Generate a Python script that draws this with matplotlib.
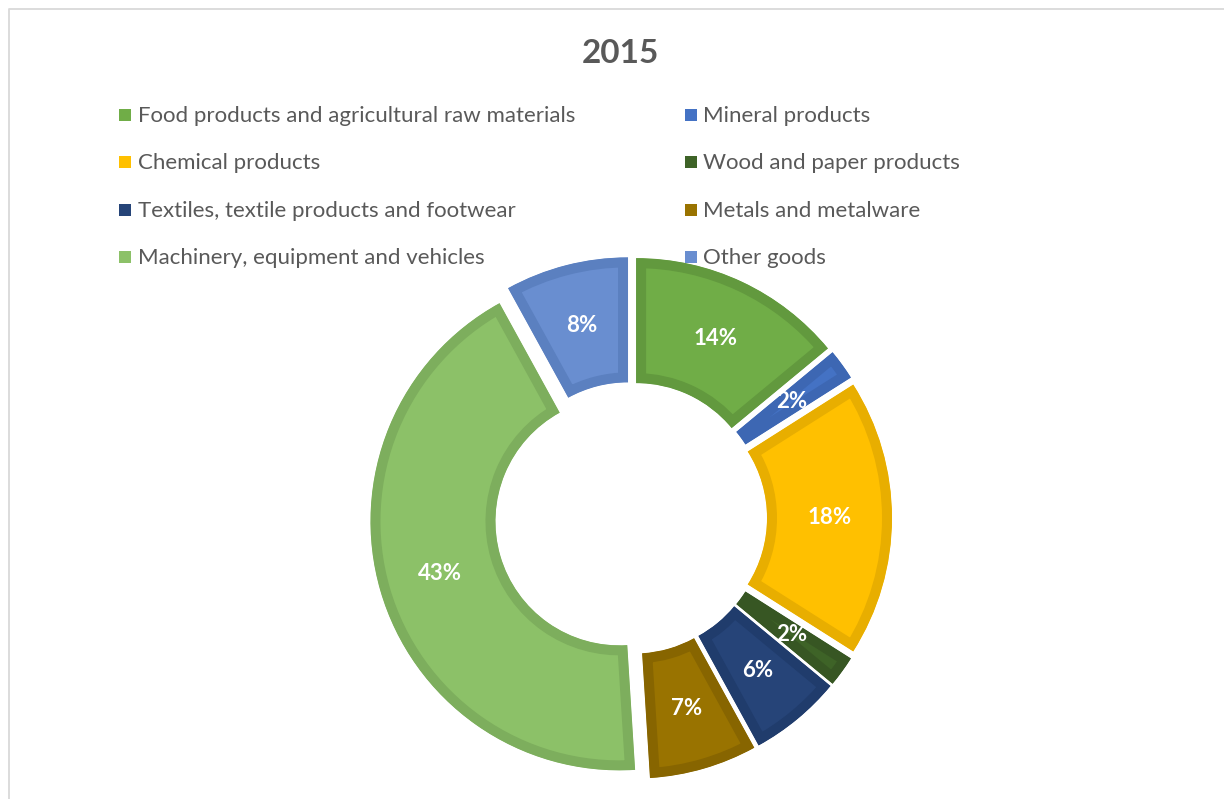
import matplotlib
matplotlib.use('agg')
import matplotlib.pyplot as plt
from matplotlib.patches import Rectangle

W, H = 1224, 799

categories = [
    "Food products and agricultural raw materials",
    "Mineral products",
    "Chemical products",
    "Wood and paper products",
    "Textiles, textile products and footwear",
    "Metals and metalware",
    "Machinery, equipment and vehicles",
    "Other goods",
]
shares = [14, 2, 18, 2, 6, 7, 43, 8]
title = "2015"

fill_colors = ["#70AD47", "#4472C4", "#FFC000", "#3E6327",
               "#264478", "#997300", "#8CC168", "#698ED0"]
edge_colors = ["#62993E", "#3D67B3", "#E8AE00", "#375623",
               "#203C6C", "#876500", "#7DAE5D", "#5B80C0"]

plt.rcParams['font.family'] = ['Lato', 'DejaVu Sans']
text_gray = "#595959"

fig = plt.figure(figsize=(W / 100, H / 100), dpi=100)
ax = fig.add_axes([0, 0, 1, 1])

# donut geometry in pixels (y up in data coords)
R, r, gap = 249, 124, 12
cx, cy = 631, H - 518

wedges, _, autotexts = ax.pie(
    shares, colors=fill_colors, center=(cx, cy), radius=R,
    startangle=90, counterclock=False,
    explode=[gap] * len(shares),  # offset is in data units here
    autopct='%.0f%%', pctdistance=(R + r) / 2 / R,
    wedgeprops=dict(width=R - r, linewidth=14.4),
    textprops=dict(color='white', fontsize=16, fontweight='bold'),
    frame=True)

# darker inner outline: stroke clipped to the wedge itself
for w, ec in zip(wedges, edge_colors):
    w.set_edgecolor(ec)
    w.set_clip_on(True)
    w.set_clip_path(w)

ax.set_xlim(0, W)
ax.set_ylim(0, H)
ax.set_aspect('equal')
ax.axis('off')

# title
ax.text(620.5, H - 63, title, ha='center', va='baseline', fontsize=24,
        fontweight='bold', color=text_gray)

# legend, two columns, filled row by row
box_x = [119, 685]
text_x = [138, 703]
for i, (name, col) in enumerate(zip(categories, fill_colors)):
    c, row = i % 2, i // 2
    base = 122 + row * 47.3
    ax.add_patch(Rectangle((box_x[c], H - (base - 1)), 12, 12,
                           facecolor=col, edgecolor='none'))
    ax.text(text_x[c], H - base, name, ha='left', va='baseline',
            fontsize=16, color=text_gray)

# chart frame (only top and left visible in the crop)
ax.plot([9, 9, W], [0, H - 9, H - 9], color="#D9D9D9", lw=1.3)

fig.savefig('out.png', dpi=100)
